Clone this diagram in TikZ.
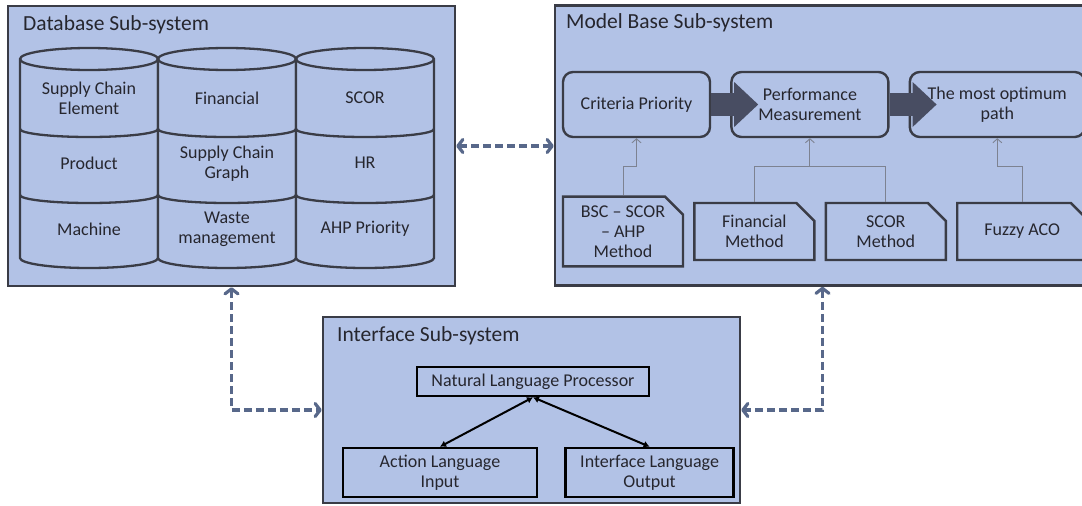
\documentclass[tikz,border=0pt]{standalone}
\usepackage{fontspec}
\setmainfont{Carlito}
\usetikzlibrary{arrows.meta,shapes.misc,positioning,calc}
\definecolor{panelblue}{RGB}{178,194,230}
\definecolor{rimgray}{RGB}{58,60,70}
\definecolor{inkgray}{RGB}{38,38,46}
\definecolor{linkblue}{RGB}{88,104,138}
\definecolor{blockgray}{RGB}{72,77,98}
\definecolor{feedgray}{RGB}{125,130,145}

\begin{document}
\begin{tikzpicture}[x=1pt,y=-1pt,align=center,node distance=9pt,
  font=\fontsize{18}{20}\selectfont,text=inkgray]
\tikzstyle{panel}=[rectangle,draw=rimgray,line width=2.5pt,fill=panelblue,inner sep=0pt]
\tikzstyle{title}=[anchor=west,inner sep=0pt,font=\fontsize{21.5}{24}\selectfont]
\tikzstyle{drum}=[draw=rimgray,line width=2.3pt,fill=panelblue]
\tikzstyle{stage}=[rectangle,rounded corners=10pt,draw=rimgray,line width=2.4pt,
  fill=panelblue,minimum height=65pt,inner sep=0pt]
\tikzstyle{method}=[chamfered rectangle,chamfered rectangle corners=north east,
  chamfered rectangle sep=9pt,draw=rimgray,line width=2.4pt,fill=panelblue,
  minimum height=57pt,inner sep=0pt]
\tikzstyle{plain}=[rectangle,draw=black,line width=2.6pt,fill=panelblue,inner sep=0pt]
\tikzstyle{block}=[draw=blockgray,line width=23pt,-{Triangle[length=24pt,width=45pt,line width=0pt]}]
\tikzstyle{feed}=[draw=feedgray,line width=0.9pt,-{Straight Barb[length=4pt,width=9pt]}]
\tikzstyle{link}=[draw=linkblue,line width=3.2pt,dash pattern=on 8pt off 4pt,
  {Straight Barb[length=5pt,width=13pt,round]}-{Straight Barb[length=5pt,width=13pt,round]}]
\tikzstyle{io}=[draw=black,line width=2pt,{Latex[length=6pt,width=7pt]}-{Latex[length=6pt,width=7pt]}]

\clip (0,0) rectangle (1082,506);

% three sub-systems
\node[panel,minimum width=447pt,minimum height=280pt] (db) at (231.5,146) {};
\node[title] (dbtitle) at (23,25) {Database Sub-system};
\node[panel,minimum width=535pt,minimum height=280pt] (mb) at (822.5,145.5) {};
\node[title] (mbtitle) at (566,23) {Model Base Sub-system};
\node[panel,minimum width=417pt,minimum height=186pt] (ifc) at (531.5,410) {};
\node[title] (ifctitle) at (337,336) {Interface Sub-system};

% database cylinders
\foreach \cx in {89,227,365} {
  \filldraw[drum] (\cx-69,59) -- (\cx-69,258)
    arc[start angle=180,end angle=0,x radius=69,y radius=10] -- (\cx+69,59)
    arc[start angle=0,end angle=-180,x radius=69,y radius=11] -- cycle;
  \draw[drum,fill=none] (\cx-69,59) arc[start angle=180,end angle=0,x radius=69,y radius=11];
  \draw[drum,fill=none] (\cx-69,129) arc[start angle=180,end angle=0,x radius=69,y radius=8];
  \draw[drum,fill=none] (\cx-69,195) arc[start angle=180,end angle=0,x radius=69,y radius=8];
}
\node (sce) at (89,98) {Supply Chain\\Element};
\node (prod) at (89,163) {Product};
\node (mach) at (89,229) {Machine};
\node (dbfin) at (227,98) {Financial};
\node (scg) at (227,164) {Supply Chain\\Graph};
\node (waste) at (227,229) {Waste\\management};
\node (scor) at (365,98) {SCOR};
\node (hr) at (365,163) {HR};
\node (ahp) at (365,229) {AHP Priority};

% model base
\node[stage,minimum width=147pt] (crit) at (636.5,104.5) {Criteria Priority};
\node[stage,minimum width=157pt,right=19pt of crit] (perf) {Performance\\Measurement};
\node[stage,minimum width=175pt,right=19pt of perf] (opt) {The most optimum\\path};
\draw[block] (crit.east) -- ([xshift=28pt]perf.west);
\draw[block] (perf.east) -- ([xshift=28pt]opt.west);

\node[method,minimum width=120pt] (bsc) at (623,231.5) {BSC -- SCOR\\-- AHP\\Method};
\node[method,minimum width=120pt,right=of bsc] (finm) {Financial\\Method};
\node[method,minimum width=120pt,right=of finm] (scorm) {SCOR\\Method};
\node[method,minimum width=130pt,right=of scorm] (fuzzy) {Fuzzy ACO};

\coordinate (cjoin) at ($(bsc.north)!0.5!(crit.south)$);
\coordinate (pjoin) at (cjoin -| perf.south);
\draw[feed] (bsc.north) |- (cjoin) -| (crit.south);
\draw[feed,-] (finm.north) |- (pjoin) -| (scorm.north);
\draw[feed] (pjoin) -- (perf.south);
\draw[feed] (fuzzy.north) |- (cjoin -| opt.south) -- (opt.south);

% interface
\node[plain,minimum width=232pt,minimum height=29pt] (nlp) at (533,381.5) {Natural Language Processor};
\node[plain,minimum width=194pt,minimum height=49pt] (act) at (440,472.5) {Action Language\\Input};
\node[plain,minimum width=168pt,minimum height=49pt,right=26pt of act] (out) {Interface Language\\Output};
\draw[io] (nlp.south) -- (act.north);
\draw[io] (nlp.south) -- (out.north);

% links between sub-systems
\draw[link] (db.east) -- (db.east -| mb.west);
\draw[link] (db.south) |- (ifc.west);
\draw[link] (mb.south) |- (ifc.east);
\end{tikzpicture}
\end{document}
